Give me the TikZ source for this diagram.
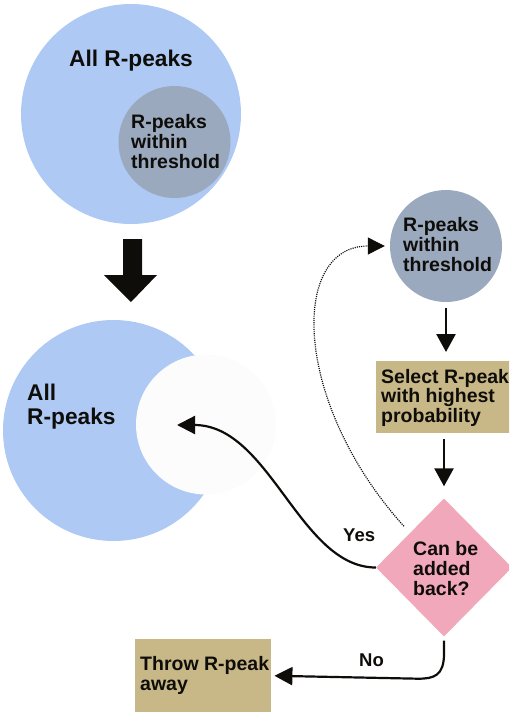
\documentclass[tikz,border=0pt]{standalone}
\usepackage{fontspec}
\setmainfont{Liberation Sans}
\usetikzlibrary{arrows.meta,shapes.geometric}
\definecolor{lblue}{RGB}{173,201,244}
\definecolor{gblue}{RGB}{154,169,189}
\definecolor{tanbox}{RGB}{201,184,135}
\definecolor{pinkd}{RGB}{241,168,186}
\definecolor{offwhite}{RGB}{252,252,252}
\definecolor{ink}{RGB}{15,13,10}
\begin{document}
\begin{tikzpicture}[x=1pt,y=-1pt,
  disc/.style={circle,inner sep=0pt,draw=none},
  boxnode/.style={rectangle,fill=tanbox,inner sep=0pt,anchor=north west},
  txt/.style={inner sep=0pt,anchor=base west,align=left,text=ink,font=\bfseries\fontsize{19.5}{20}\selectfont},
  bigtxt/.style={txt,font=\bfseries\fontsize{22.7}{24}\selectfont},
  lab/.style={txt,font=\bfseries\fontsize{18.5}{20}\selectfont},
  arr/.style={draw=ink,line width=2.6pt,-{Triangle[length=18pt,width=19pt]}},
  carr/.style={draw=ink,line width=2.2pt,-{Triangle[length=18pt,width=18pt]}},
  darr/.style={draw=ink,line width=1.2pt,dash pattern=on 1.1pt off 1.1pt,-{Triangle[length=17pt,width=17pt]}}]
\useasboundingbox (0,0) rectangle (509,712);
\clip (0,0) rectangle (509,712);

% top Venn
\node[disc,fill=lblue,minimum size=220pt] (allA) at (131,114) {};
\node[disc,fill=gblue,minimum size=112pt] (thrA) at (174.5,142) {};
\node[bigtxt] (allAtxt) at (69,66) {All R-peaks};
\node[txt] (thrAtxt) at (131,168) {R-peaks\\within\\threshold};

% block arrow
\fill[ink] (123,239) -- (142,239) -- (142,275) -- (157,275) -- (131,302) -- (104,275) -- (123,275) -- cycle;

% lower crescent
\node[disc,fill=lblue,minimum size=221pt] (allB) at (113.5,430.5) {};
\node[disc,fill=offwhite,minimum size=140pt] (gap) at (206,424.5) {};
\node[bigtxt] (allBtxt) at (27,424) {All\\R-peaks};
\coordinate (yestip) at (177,425);

% right flow
\node[disc,fill=gblue,minimum size=112pt] (thrB) at (446,246) {};
\node[txt] (thrBtxt) at (403,271) {R-peaks\\within\\threshold};

\node[boxnode,minimum width=150pt,minimum height=72pt] (sel) at (376,361) {};
\node[txt,font=\bfseries\fontsize{19.5}{19.5}\selectfont] (seltxt) at (381,422) {Select R-peak\\with highest\\probability};

\node[diamond,fill=pinkd,inner sep=0pt,minimum width=136pt,minimum height=138pt] (dia) at (444,567.5) {};
\node[txt] (diatxt) at (413,595) {Can be\\added\\back?};

\node[boxnode,minimum width=136pt,minimum height=73pt] (throw) at (135,639) {};
\node[txt,font=\bfseries\fontsize{19.5}{20.5}\selectfont] (throwtxt) at (140,690.5) {Throw R-peak\\away};

% connectors
\draw[arr,shorten <=6pt,shorten >=9pt] (thrB.south) -- (thrB.south |- sel.north);
\draw[arr,shorten <=6pt,shorten >=12pt] (dia.north |- sel.south) -- (dia.north);
\draw[carr] (dia.west) .. controls +(-76,0) and +(93,0) .. (yestip);
\draw[carr,shorten <=4pt,shorten >=3pt] (dia.south) -- ++(0,17) .. controls +(0,22) and +(16,0) .. ++(-26,25) -- (throw.east);
\draw[darr,shorten <=9pt,shorten >=5pt] (dia.north west) .. controls +(-118,-131) and +(-100,0) .. (thrB.west);

\node[lab] (yes) at (343,541) {Yes};
\node[lab] (no) at (359,666) {No};
\end{tikzpicture}
\end{document}
